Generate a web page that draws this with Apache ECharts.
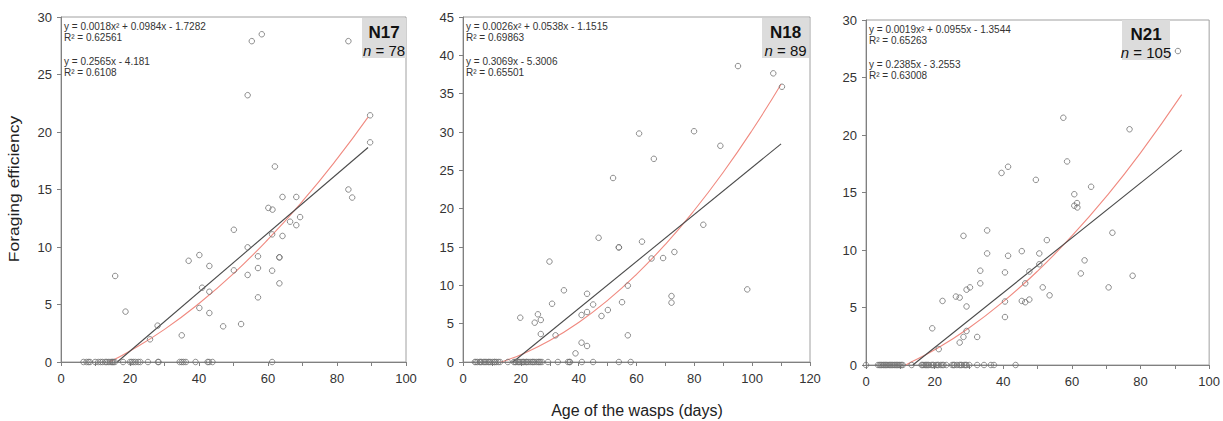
<!DOCTYPE html>
<html><head><meta charset="utf-8">
<script src="https://cdn.jsdelivr.net/npm/echarts@6/dist/echarts.min.js"></script>
<style>html,body{margin:0;padding:0;background:#fff}#c{width:1223px;height:421px}</style>
</head><body><div id="c"></div>
<script>
// ---------- data ----------
const panelNames = ['N17', 'N18', 'N21'];
const panelN = ['78', '89', '105'];
const xMax = [100, 120, 100];
const yMax = [30, 45, 30];

const n17Points = [
[55.3,27.9],[58.2,28.5],[83.3,27.9],[54.1,23.2],[89.6,21.45],[89.6,19.1],[62.0,17.0],[64.2,14.35],[68.2,14.35],[83.3,15.0],[84.4,14.3],
[60.1,13.4],[61.3,13.25],[66.4,12.2],[69.3,12.6],[68.2,11.9],[50.1,11.5],[61.2,11.1],[64.2,10.96],[54.1,9.97],[40.1,9.3],[37.0,8.8],
[57.1,9.19],[63.3,9.1],[63.3,9.1],[43.0,8.35],[57.1,8.17],[50.1,7.97],[61.2,7.94],[15.7,7.48],[54.1,7.57],[63.3,6.84],[40.9,6.46],
[43.0,6.11],[57.1,5.62],[40.1,4.7],[18.7,4.38],[43.0,4.26],[52.2,3.3],[47.0,3.1],[28.0,3.16],[35.0,2.32],[25.8,1.97],
[6.5,0],[7.4,0],[8.4,0],[9.9,0],[10.8,0],[12.0,0],[12.8,0],[13.7,0],[14.2,0],[14.7,0],[15.2,0],[15.6,0],[18.0,0],[20.0,0],
[21.0,0],[21.6,0],[22.4,0],[23.0,0],[25.2,0],[28.1,0],[28.3,0],[34.4,0],[35.0,0],[36.2,0],[39.0,0],[42.9,0],[43.9,0],[61.2,0],
[8.0,0],[11.5,0],[13.2,0],[14.9,0],[20.5,0],[35.5,0],[42.5,0]
];
const n18Points = [
[95.1,38.6],[107.3,37.65],[110.3,35.9],[60.9,29.8],[79.9,30.1],[89.0,28.2],[66.0,26.5],[51.9,24.0],
[83.1,17.9],[46.9,16.2],[61.9,15.7],[53.9,14.95],[53.9,14.95],[73.1,14.35],[65.2,13.5],[69.2,13.56],[29.9,13.1],[57.0,9.96],
[98.3,9.47],[34.9,9.35],[42.9,8.9],[72.1,8.6],[72.1,7.74],[55.0,7.8],[30.8,7.6],[45.0,7.5],[50.1,6.78],[42.9,6.52],[41.0,6.13],
[47.9,6.0],[19.8,5.78],[25.9,6.22],[26.9,5.48],[24.8,5.13],[26.9,3.65],[32.0,3.48],[57.0,3.48],[41.0,2.52],[42.9,2.09],[38.9,1.13],
[4.1,0],[5.0,0],[5.8,0],[6.5,0],[7.2,0],[8.0,0],[8.7,0],[9.4,0],[10.1,0],[10.8,0],[11.5,0],[12.2,0],[12.8,0],[15.5,0],
[17.6,0],[18.3,0],[19.0,0],[19.7,0],[20.4,0],[21.1,0],[21.8,0],[22.5,0],[23.2,0],[23.9,0],[24.6,0],[25.3,0],[26.0,0],[26.7,0],[27.3,0],
[29.4,0],[32.8,0],[36.3,0],[37.0,0],[41.1,0],[45.0,0],[53.9,0],[58.0,0],
[4.5,0],[6.0,0],[7.6,0],[9.0,0],[11.0,0],[18.0,0],[19.3,0],[20.8,0],[22.0,0],[24.2,0],[26.3,0],[36.8,0]
];
const n21Points = [
[90.9,27.3],[57.5,21.5],[76.8,20.5],[58.6,17.7],[39.5,16.7],[41.4,17.24],[49.5,16.1],[65.6,15.5],[60.7,14.85],
[60.7,13.85],[61.5,14.08],[61.6,13.7],[28.4,11.23],[35.3,11.7],[71.8,11.5],[52.7,10.86],[35.3,9.7],[41.4,9.5],[45.4,9.9],[50.5,9.7],
[50.5,8.76],[63.7,9.1],[47.6,8.13],[40.5,8.05],[33.3,8.2],[62.6,7.96],[77.7,7.76],[33.3,7.1],[46.4,7.1],[30.3,6.75],[29.3,6.55],
[51.5,6.75],[70.7,6.75],[53.5,6.06],[26.2,5.95],[27.3,5.86],[22.3,5.57],[29.3,5.09],[45.4,5.57],[46.4,5.46],[47.6,5.69],[40.5,5.52],
[40.5,4.17],[19.3,3.19],[29.3,2.96],[28.4,2.44],[32.4,2.44],[27.3,1.95],[21.2,1.38],
[0,0],[3.5,0],[4.3,0],[5.0,0],[5.7,0],[6.4,0],[7.1,0],[7.8,0],[8.5,0],[9.2,0],[9.9,0],[10.7,0],[13.3,0],
[16.2,0],[16.9,0],[17.6,0],[18.3,0],[19.0,0],[19.7,0],[20.4,0],[21.1,0],[21.8,0],[22.6,0],[23.4,0],
[25.1,0],[25.8,0],[26.5,0],[27.2,0],[27.9,0],[28.6,0],[29.3,0],[30.1,0],[32.4,0],[34.4,0],[36.4,0],[37.3,0],[43.6,0],
[3.9,0],[4.6,0],[5.3,0],[6.0,0],[6.8,0],[7.5,0],[8.2,0],[8.9,0],[9.6,0],[10.3,0],[16.5,0],[17.3,0],[18.0,0],[19.4,0],
[20.8,0],[22.2,0],[25.5,0],[27.6,0],[29.0,0]
];

// fitted trend lines
const n17Linear = [[16.3,0],[89,18.65]];
const n17Quad = [[14,0],[20,0.96],[30,2.84],[40,5.09],[50,7.69],[60,10.66],[70,13.98],[80,17.66],[89,21.29]];
const n18Linear = [[17.3,0],[110,28.46]];
const n18Quad = [[13.1,0],[15,0.24],[20,0.96],[30,2.80],[40,5.16],[50,8.04],[60,11.44],[70,15.35],[80,19.79],[90,24.75],[100,30.23],[110,36.23]];
const n21Linear = [[13.65,0],[92,18.69]];
const n21Quad = [[11.5,0],[12,0.07],[20,1.32],[30,3.22],[40,5.51],[50,8.17],[60,11.22],[70,14.64],[80,18.45],[92,23.51]];

const equations = [
  ['y = 0.0018x\u00b2 + 0.0984x - 1.7282', 'R\u00b2 = 0.62561', 'y = 0.2565x - 4.181', 'R\u00b2 = 0.6108'],
  ['y = 0.0026x\u00b2 + 0.0538x - 1.1515', 'R\u00b2 = 0.69863', 'y = 0.3069x - 5.3006', 'R\u00b2 = 0.65501'],
  ['y = 0.0019x\u00b2 + 0.0955x - 1.3544', 'R\u00b2 = 0.65263', 'y = 0.2385x - 3.2553', 'R\u00b2 = 0.63008']
];

// ---------- layout ----------
const grids = [
  {left: 61, top: 17, width: 345, height: 345},
  {left: 463, top: 17, width: 347, height: 345},
  {left: 866, top: 20, width: 346, height: 345}
];
const boxes = [
  {x: 362, y: 18, w: 44, h: 40},
  {x: 762, y: 18, w: 47, h: 40},
  {x: 1122, y: 20, w: 48, h: 40}
];
const points = [n17Points, n18Points, n21Points];
const lins = [n17Linear, n18Linear, n21Linear];
const quads = [n17Quad, n18Quad, n21Quad];

const FONT = '"Liberation Sans", Arial, sans-serif';
const chart = echarts.init(document.getElementById('c'), null, {renderer: 'svg'});

const option = {
  backgroundColor: '#fff',
  animation: false,
  grid: grids.map(g => Object.assign({show: true, borderColor: '#a0a0a0', borderWidth: 1, backgroundColor: 'transparent'}, g)),
  xAxis: grids.map((g, i) => ({
    gridIndex: i, type: 'value', min: 0, max: xMax[i], interval: 20,
    axisLine: {show: true, onZero: false, lineStyle: {color: '#808080'}},
    axisTick: {show: true, length: 4, lineStyle: {color: '#808080'}},
    minorTick: {show: true, splitNumber: 2, length: 4, lineStyle: {color: '#808080'}},
    splitLine: {show: false},
    axisLabel: {color: '#333', fontSize: 13, fontFamily: FONT, margin: 10}
  })),
  yAxis: grids.map((g, i) => ({
    gridIndex: i, type: 'value', min: 0, max: yMax[i], interval: 5,
    axisLine: {show: true, onZero: false, lineStyle: {color: '#808080'}},
    axisTick: {show: true, length: 4, lineStyle: {color: '#808080'}},
    splitLine: {show: false},
    axisLabel: {color: '#333', fontSize: 13, fontFamily: FONT, margin: 9}
  })),
  series: [],
  graphic: []
};

for (let i = 0; i < 3; i++) {
  option.series.push({
    type: 'scatter', xAxisIndex: i, yAxisIndex: i, data: points[i],
    symbol: 'circle', symbolSize: 5.5,
    itemStyle: {color: 'transparent', borderColor: '#707070', borderWidth: 1},
    z: 3
  });
  option.series.push({
    type: 'line', xAxisIndex: i, yAxisIndex: i, data: quads[i], smooth: true,
    showSymbol: false, lineStyle: {color: '#f08a80', width: 1.1}, z: 2
  });
  option.series.push({
    type: 'line', xAxisIndex: i, yAxisIndex: i, data: lins[i],
    showSymbol: false, lineStyle: {color: '#4a4a4a', width: 1.1}, z: 2
  });

  const g = grids[i];
  const eq = equations[i];
  const tx = g.left + 3;
  const ty = g.top + 4;
  option.graphic.push(
    {type: 'text', left: tx, top: ty, style: {text: eq[0] + '\n' + eq[1], font: '10px ' + FONT, fill: '#333', lineHeight: 11}},
    {type: 'text', left: tx, top: ty + 35, style: {text: eq[2] + '\n' + eq[3], font: '10px ' + FONT, fill: '#333', lineHeight: 11}}
  );
  const b = boxes[i];
  option.graphic.push(
    {type: 'rect', shape: {x: b.x, y: b.y, width: b.w, height: b.h}, style: {fill: '#dcdcdc'}, z: 10},
    {type: 'text', x: b.x + b.w / 2, y: b.y + 14, z: 11,
      style: {text: panelNames[i], font: 'bold 17px ' + FONT, fill: '#111', align: 'center', verticalAlign: 'middle'}},
    {type: 'text', x: b.x + b.w / 2, y: b.y + 32, z: 11,
      style: {text: '{i|n} = ' + panelN[i], align: 'center', verticalAlign: 'middle', font: '15px ' + FONT, fill: '#111',
        rich: {i: {fontStyle: 'italic', fontSize: 15, fontFamily: FONT, fill: '#111'}}}}
  );
}

option.graphic.push(
  {type: 'text', x: 637, y: 410, style: {text: 'Age of the wasps (days)', font: '16px ' + FONT, fill: '#222', align: 'center', verticalAlign: 'middle'}},
  {type: 'text', x: 14, y: 189, rotation: Math.PI / 2, scaleX: 1.25,
    style: {text: 'Foraging efficiency', font: '14px ' + FONT, fill: '#222', align: 'center', verticalAlign: 'middle'}}
);

chart.setOption(option);
</script>
</body></html>
